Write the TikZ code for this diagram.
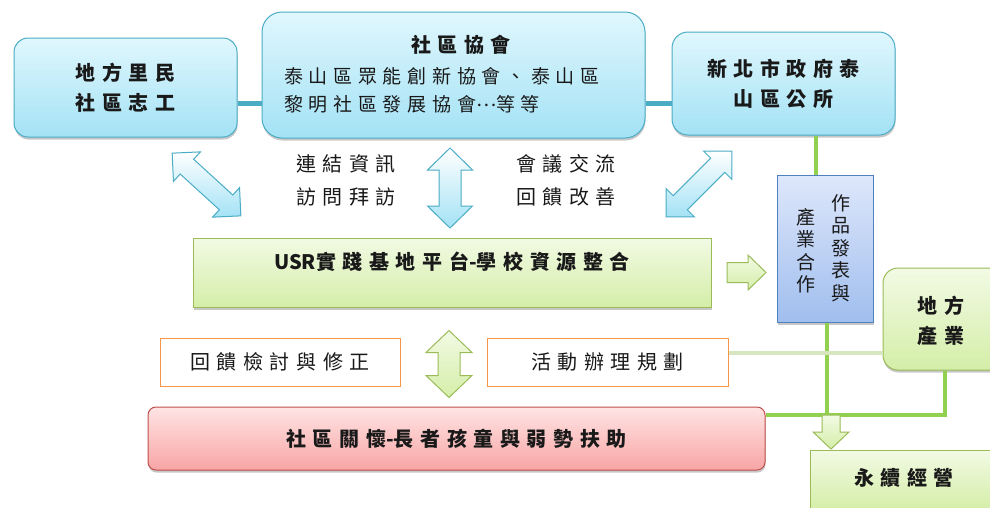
\documentclass[tikz,border=0pt]{standalone}
\usepackage{fontspec}
\setmainfont{Noto Sans CJK TC}
\newfontfamily\cjk[LetterSpace=33]{Noto Sans CJK TC}
\newfontfamily\cjkb[LetterSpace=30]{Noto Sans CJK TC}
\newfontfamily\cjkn{Noto Sans CJK TC}
\usetikzlibrary{shadows}
\definecolor{bluetop}{RGB}{224,247,253}
\definecolor{bluebot}{RGB}{163,226,245}
\definecolor{blueedge}{RGB}{75,172,198}
\definecolor{greentop}{RGB}{242,250,228}
\definecolor{greenbot}{RGB}{212,238,168}
\definecolor{greenedge}{RGB}{155,187,89}
\definecolor{dtop}{RGB}{222,231,251}
\definecolor{dbot}{RGB}{160,190,238}
\definecolor{dedge}{RGB}{79,129,189}
\definecolor{pinktop}{RGB}{255,228,228}
\definecolor{pinkbot}{RGB}{248,165,165}
\definecolor{pinkedge}{RGB}{192,80,77}
\definecolor{orangeedge}{RGB}{247,150,70}
\definecolor{gline}{RGB}{146,208,80}
\definecolor{lgline}{RGB}{216,230,192}
\definecolor{txt}{RGB}{25,25,25}
\newcommand\titlefont{\cjk\bfseries\fontsize{20}{30}\selectfont}
\newcommand\normfont{\cjk\fontsize{20}{33}\selectfont}
\newcommand\bodyfont{\cjkb\fontsize{19}{28}\selectfont}
\newcommand\vertfont{\cjkn\fontsize{19}{22.5}\selectfont}
\newcommand\plain[1]{{\cjkn #1}}
\tikzset{
  shad/.style={drop shadow={shadow xshift=0.5pt, shadow yshift=-2.5pt, opacity=0.22, fill=black}},
  box/.style={line width=1pt, inner sep=0pt, text=txt},
  bluebox/.style={box, draw=blueedge, top color=bluetop, bottom color=bluebot, shad},
  greenbox/.style={box, draw=greenedge, top color=greentop, bottom color=greenbot, shad},
  dbox/.style={box, draw=dedge, top color=dtop, bottom color=dbot, shad},
  pinkbox/.style={box, draw=pinkedge, top color=pinktop, bottom color=pinkbot, shad},
  obox/.style={box, draw=orangeedge, fill=white},
  label/.style={text=txt, inner sep=0pt},
  tline/.style={draw=blueedge, line width=5pt},
  gln/.style={draw=gline, line width=4.5pt},
  lgln/.style={draw=lgline, line width=4pt},
  arrb/.style={draw=blueedge, line width=1pt, top color=white, bottom color=bluebot, shad},
  arrg/.style={draw=greenedge, line width=1pt, top color=greentop, bottom color=greenbot, shad},
  pics/dblarr/.style n args={4}{code={
    \path[pic actions] (-#1/2,0) -- (-#1/2+#4,#2/2) -- (-#1/2+#4,#3/2) -- (#1/2-#4,#3/2)
      -- (#1/2-#4,#2/2) -- (#1/2,0) -- (#1/2-#4,-#2/2) -- (#1/2-#4,-#3/2)
      -- (-#1/2+#4,-#3/2) -- (-#1/2+#4,-#2/2) -- cycle;}},
  pics/sglarr/.style n args={4}{code={
    \path[pic actions] (-#1/2,#3/2) -- (#1/2-#4,#3/2) -- (#1/2-#4,#2/2) -- (#1/2,0)
      -- (#1/2-#4,-#2/2) -- (#1/2-#4,-#3/2) -- (-#1/2,-#3/2) -- cycle;}},
}
\begin{document}
\begin{tikzpicture}[x=1pt,y=-1pt]
\clip (0,0) rectangle (990,507);
\fill[white] (0,0) rectangle (990,507);

% top boxes
\node[bluebox, minimum width=223pt, minimum height=99pt, rounded corners=14pt, font=\titlefont, align=center] (A) at (125.5,87.5) {地方里民\\社區志工};
\node[bluebox, minimum width=383pt, minimum height=126pt, rounded corners=20pt] (B) at (453.5,75) {};
\node[label, font=\titlefont] (Bt) at (461,45) {社區協會};
\node[label, font=\bodyfont, align=left, anchor=west] (Bb) at (284,90) {泰山區眾能創新協會、泰山區\\黎明社區發展協會\raisebox{5pt}{…}等等};
\node[bluebox, minimum width=223pt, minimum height=103pt, rounded corners=16pt, font=\titlefont, align=center] (C) at (783.5,83.5) {新北市政府泰\\山區公所};

% connectors top
\draw[tline] ([yshift=-15.5pt]A.east) coordinate (t1) -- (t1 -| B.west);
\draw[tline] (t1 -| B.east) -- (t1 -| C.west);

% labels
\node[label, font=\normfont, align=center] (L1) at (346,180) {連結資訊\\訪問拜訪};
\node[label, font=\normfont, align=center] (L2) at (566,180) {會議交流\\回饋改善};

% arrows between top and USR
\pic[arrb, rotate=90] at (450,188) {dblarr={80}{45}{22}{22}};
\pic[arrb, rotate=-42.4] at (206.5,184.5) {dblarr={93}{40}{20}{20}};
\pic[arrb, rotate=45] at (699,184) {dblarr={93}{40}{20}{20}};

% USR box
\node[greenbox, minimum width=518pt, minimum height=69pt] (U) at (452,272.5) {};
\node[label, font=\titlefont] (Ut) at (452,262) {\plain{USR}實踐基地平台\plain{-}學校資源整合};

% blue vertical box
\node[dbox, minimum width=96pt, minimum height=147pt] (D) at (825,248.5) {};
\node[label, font=\vertfont, align=center] (D1) at (841,248) {作\\品\\發\\表\\與};
\node[label, font=\vertfont, align=center] (D2) at (806,250.5) {產\\業\\合\\作};

\pic[arrg] at (746.5,272.5) {sglarr={39}{35}{20}{18}};

% local industry
\node[greenbox, minimum width=124pt, minimum height=102pt, rounded corners=15pt] (F) at (945,319) {};
\node[label, font=\titlefont, align=center] (Ft) at (941,320.5) {地方\\產業};

% lower boxes
\node[obox, minimum width=240pt, minimum height=48pt, font=\normfont] (R1) at (280,362) {回饋檢討與修正};
\node[obox, minimum width=241pt, minimum height=48pt, font=\normfont] (R2) at (607.5,362) {活動辦理規劃};
\pic[arrg, rotate=90] at (449,364) {dblarr={67}{46}{22}{22}};

\node[pinkbox, minimum width=617pt, minimum height=63pt, rounded corners=8pt, font=\titlefont] (P) at (456.5,438.5) {社區關懷\plain{-}長者孩童與弱勢扶助};

\node[greenbox, minimum width=190pt, minimum height=60pt] (G) at (905,480) {};
\node[label, font=\titlefont] (Gt) at (904,478) {永續經營};

% green connectors
\coordinate (J) at (827,415);
\draw[gln] ([xshift=32.5pt]C.south) coordinate (t2) -- (t2 |- D.north);
\draw[gln] (D.south -| J) -- (J);
\draw[gln] (P.east |- J) -- (F.south |- J) -- (F.south);
\draw[lgln] ([yshift=9pt]R2.east) coordinate (t3) -- (t3 -| F.west);
\pic[arrg, rotate=-90] at (831,432) {sglarr={34}{36}{18}{17}};
\end{tikzpicture}
\end{document}
